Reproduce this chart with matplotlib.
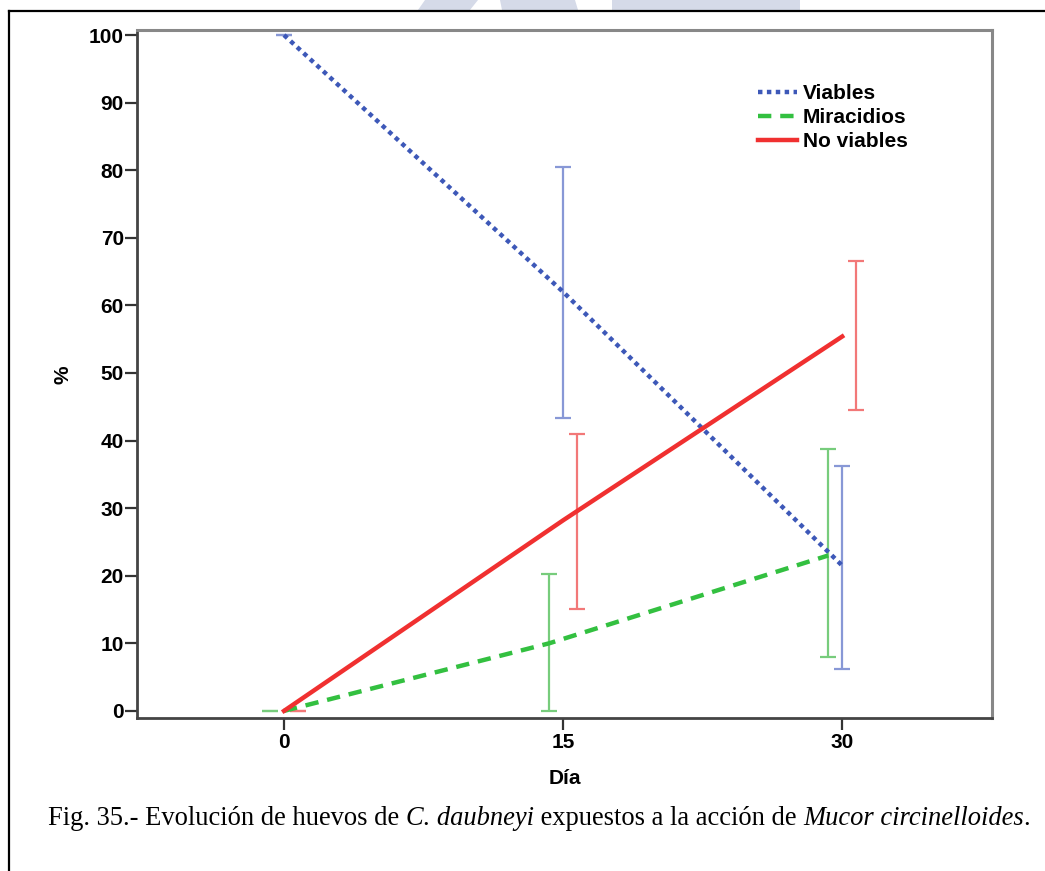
import matplotlib
matplotlib.use("Agg")
import matplotlib.pyplot as plt
from matplotlib.lines import Line2D

# ---- data ----
days = [0, 15, 30]
x_ticks = [0, 15, 30]
y_ticks = [0, 10, 20, 30, 40, 50, 60, 70, 80, 90, 100]

viables_mean = [100.0, 62.0, 21.5]
viables_low = [100.0, 43.3, 6.2]
viables_high = [100.0, 80.5, 36.2]

miracidios_mean = [0.0, 10.0, 23.0]
miracidios_low = [0.0, 0.0, 8.0]
miracidios_high = [0.0, 20.3, 38.8]

noviables_mean = [0.0, 28.2, 55.4]
noviables_low = [0.0, 15.1, 44.5]
noviables_high = [0.0, 41.0, 66.6]

labels = ["Viables", "Miracidios", "No viables"]
caption_parts = ["Fig. 35.- Evolución de huevos de ", "C. daubneyi",
                 " expuestos a la acción de ", "Mucor circinelloides", "."]

sans = ["Liberation Sans", "DejaVu Sans"]
serif = ["Liberation Serif", "DejaVu Serif"]

W, H = 1045, 871
fig = plt.figure(figsize=(W / 100, H / 100), dpi=100)
fig.patch.set_facecolor("white")

# watermark fragments in the top strip (pixel coordinates of a helper axes)
wm_ax = fig.add_axes([0, 1 - 11 / H, 1, 11 / H], zorder=-1)
wm_ax.set_xlim(0, W)
wm_ax.set_ylim(11, 0)
wm_ax.axis("off")
wm = "#d5dae8"
wm_ax.fill([425, 478, 470, 418], [0, 0, 10, 10], color=wm, lw=0)
wm_ax.fill([500, 575, 578, 502], [0, 0, 10, 10], color=wm, lw=0)
wm_ax.fill([612, 800, 800, 612], [0, 0, 10, 10], color=wm, lw=0)

# outer frame (top and left)
fig.add_artist(Line2D([9 / W, 1], [1 - 11 / H, 1 - 11 / H], color="black", lw=1.6,
                      transform=fig.transFigure))
fig.add_artist(Line2D([9 / W, 9 / W], [0, 1 - 11 / H], color="black", lw=1.6,
                      transform=fig.transFigure))

ax = fig.add_axes([137 / W, 1 - 718 / H, 855 / W, 688 / H])
ax.set_xlim(-7.9, 38.05)
ax.set_ylim(-1.05, 100.75)

blue = "#3d58b8"
green = "#33c040"
red = "#f03030"
blue_e = "#8898d6"
green_e = "#77cc7c"
red_e = "#f27878"

dodge = 0.75

def errs(mean, low, high):
    return [[m - l for m, l in zip(mean, low)], [h - m for m, h in zip(mean, high)]]

# error bars
ax.errorbar([d - dodge for d in days], miracidios_mean,
            yerr=errs(miracidios_mean, miracidios_low, miracidios_high),
            fmt="none", ecolor=green_e, elinewidth=1.6, capsize=5.5, capthick=1.6, zorder=2)
ax.errorbar(days, viables_mean,
            yerr=errs(viables_mean, viables_low, viables_high),
            fmt="none", ecolor=blue_e, elinewidth=1.6, capsize=5.5, capthick=1.6, zorder=2)
ax.errorbar([d + dodge for d in days], noviables_mean,
            yerr=errs(noviables_mean, noviables_low, noviables_high),
            fmt="none", ecolor=red_e, elinewidth=1.6, capsize=5.5, capthick=1.6, zorder=2)

# lines
ax.plot(days, viables_mean, color=blue, lw=3.2, linestyle=(0, (1, 1)), zorder=3,
        label=labels[0])
ax.plot([d - dodge if d > 0 else d for d in days], miracidios_mean, color=green, lw=3.2,
        linestyle=(0, (3, 2)), zorder=3, label=labels[1])
ax.plot(days, noviables_mean, color=red, lw=3.2, linestyle="-", zorder=3,
        label=labels[2])

ax.set_xticks(x_ticks)
ax.set_yticks(y_ticks)
ax.set_xticklabels([str(v) for v in x_ticks], family=sans, fontweight="bold", fontsize=15)
ax.set_yticklabels([str(v) for v in y_ticks], family=sans, fontweight="bold", fontsize=15)
ax.tick_params(axis="y", length=8.5, width=1.6, color="#333333", pad=1)
ax.tick_params(axis="x", length=8.5, width=1.6, color="#333333", pad=2)

for side in ["left", "bottom"]:
    ax.spines[side].set_color("#444444")
    ax.spines[side].set_linewidth(2.0)
for side in ["top", "right"]:
    ax.spines[side].set_color("#888888")
    ax.spines[side].set_linewidth(2.2)

ax.set_xlabel("Día", family=sans, fontweight="bold", fontsize=15)
ax.xaxis.set_label_coords(0.5, (718 - 779) / 688)
ax.xaxis.label.set_va("center")
ax.set_ylabel("%", family=sans, fontweight="bold", fontsize=15)
ax.yaxis.set_label_coords((63 - 137) / 855, (718 - 375) / 688)
ax.yaxis.label.set_va("center")

leg = ax.legend(loc="upper left", bbox_to_anchor=((758 - 137) / 855, (718 - 84) / 688),
                frameon=False,
                prop={"family": sans, "weight": "bold", "size": 15},
                handlelength=1.87, handletextpad=0.29, labelspacing=0.24,
                borderaxespad=0, borderpad=0)

# caption with italic parts
x0 = 48 / W
yc = 1 - 818 / H
renderer = fig.canvas.get_renderer()
xcur = x0
for i, part in enumerate(caption_parts):
    style = "italic" if i in (1, 3) else "normal"
    t = fig.text(xcur, yc, part, family=serif, style=style, fontsize=19.1,
                 va="center", ha="left")
    bb = t.get_window_extent(renderer=renderer)
    xcur += bb.width / W

fig.savefig("out.png", dpi=100, facecolor="white")
